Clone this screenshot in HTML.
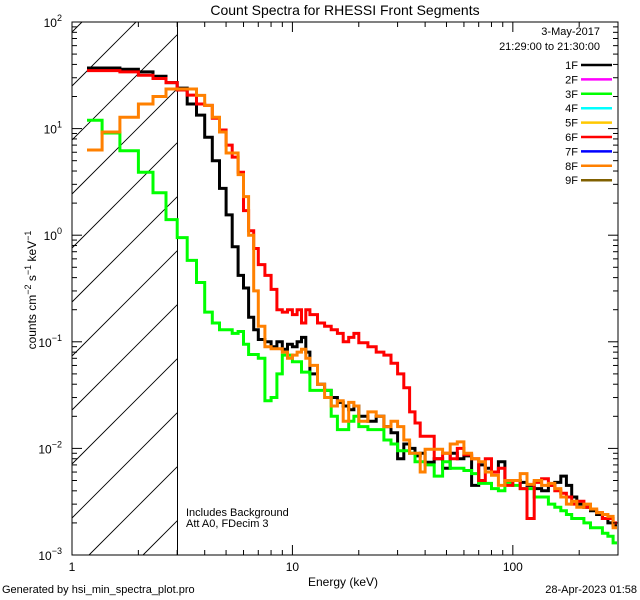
<!DOCTYPE html>
<html><head><meta charset="utf-8"><style>
html,body{margin:0;padding:0;background:#fff;width:640px;height:600px;overflow:hidden;}
svg{display:block;font-family:"Liberation Sans",sans-serif;}
</style></head><body>
<svg id="chart" width="640" height="600" viewBox="0 0 640 600" xmlns="http://www.w3.org/2000/svg">
<rect width="640" height="600" fill="#fff"/>
<text x="345" y="15" font-size="14" text-anchor="middle">Count Spectra for RHESSI Front Segments</text>
<text x="343" y="586" font-size="12" text-anchor="middle">Energy (keV)</text>
<text x="2" y="593" font-size="11">Generated by hsi_min_spectra_plot.pro</text>
<text x="637" y="593" font-size="11" text-anchor="end">28-Apr-2023 01:58</text>
<text transform="translate(36,290) rotate(-90)" font-size="12" text-anchor="middle">counts cm<tspan dy="-5" font-size="9">−2</tspan><tspan dy="5"> s</tspan><tspan dy="-5" font-size="9">−1</tspan><tspan dy="5"> keV</tspan><tspan dy="-5" font-size="9">−1</tspan></text>
<text x="186" y="516" font-size="11">Includes Background</text>
<text x="186" y="527" font-size="11">Att A0, FDecim 3</text>
<g id="hatch"></g>
<g id="series"></g>
<g id="axes"></g>
<g id="legend"></g>
</svg>
<script>
const edges = [1.17,1.37,1.65,2,2.33,2.67,3,3.33,3.67,4,4.33,4.67,5,5.33,5.67,6,6.33,6.67,7,7.5,8,8.5,9,9.5,10,10.5,11,11.5,12,13,14,15,16,17,18,19,20,22,24,26,28,30,32,34,36,38,40,44,48,52,56,60,65,70,75,80,86,92,100,108,116,125,135,145,155,165,175,185,195,210,225,240,255,270,285,300];
const seg1F = [37,37,36,34,31,27,24,17,13.4,8.3,5.0,2.75,1.55,0.78,0.42,0.32,0.17,0.13,0.105,0.1,0.09,0.1,0.085,0.095,0.09,0.1,0.11,0.08,0.05,0.04,0.035,0.03,0.027,0.025,0.023,0.025,0.02,0.018,0.02,0.016,0.014,0.008,0.011,0.01,0.0085,0.009,0.0074,0.008,0.0065,0.009,0.008,0.0085,0.0045,0.007,0.0065,0.006,0.0075,0.005,0.005,0.0048,0.0045,0.0042,0.004,0.0045,0.0048,0.0055,0.0045,0.0035,0.003,0.0028,0.0026,0.0024,0.0022,0.002,0.0019];
const seg3F = [12,9.1,6.2,3.9,2.5,1.4,0.95,0.58,0.36,0.19,0.15,0.13,0.13,0.12,0.125,0.095,0.076,0.076,0.07,0.028,0.03,0.05,0.075,0.075,0.065,0.065,0.052,0.052,0.035,0.035,0.035,0.02,0.015,0.015,0.018,0.02,0.016,0.015,0.015,0.012,0.011,0.0095,0.0095,0.009,0.0075,0.0075,0.007,0.0055,0.0075,0.0065,0.0065,0.0062,0.0058,0.0047,0.0047,0.0042,0.004,0.0048,0.0045,0.0042,0.0042,0.0035,0.0035,0.003,0.0028,0.0026,0.0024,0.0022,0.0022,0.002,0.0018,0.0018,0.0016,0.0015,0.0013];
const seg6F = [35,35,34,31.6,29.5,27,23,20.6,17,16.5,12.5,9.7,7,5.4,3.9,1.7,1.1,0.75,0.53,0.42,0.31,0.2,0.19,0.2,0.18,0.2,0.15,0.2,0.18,0.15,0.14,0.13,0.12,0.1,0.11,0.12,0.098,0.09,0.08,0.075,0.063,0.05,0.037,0.022,0.0173,0.013,0.013,0.008,0.009,0.008,0.01,0.0087,0.008,0.005,0.008,0.006,0.0065,0.0045,0.005,0.0042,0.0022,0.0048,0.0052,0.0045,0.004,0.0038,0.0035,0.003,0.0032,0.0028,0.0027,0.0025,0.0022,0.0022,0.002];
const seg8F = [6.3,9.3,12.8,17,20,23.5,23.5,23.5,20.5,16.5,12.8,9.3,5.9,5.9,3.7,2.3,1.0,0.3,0.14,0.09,0.086,0.086,0.08,0.07,0.075,0.08,0.085,0.07,0.06,0.04,0.03,0.025,0.028,0.018,0.027,0.025,0.018,0.022,0.02,0.016,0.018,0.016,0.012,0.009,0.009,0.006,0.0098,0.0098,0.009,0.011,0.0115,0.009,0.008,0.0075,0.006,0.0056,0.0045,0.005,0.005,0.0058,0.0046,0.005,0.0045,0.0047,0.0042,0.0035,0.003,0.0032,0.0028,0.003,0.0027,0.0025,0.0024,0.0023,0.0018];
const legendLabels = ["1F","2F","3F","4F","5F","6F","7F","8F","9F"];
const legendColors = ["#000000","#ff00ff","#00ff00","#00ffff","#ffc800","#ff0000","#0000ff","#ff8000","#806000"];
const yTickLabels = ["-3","-2","-1","0","1","2"];
const xTickLabels = ["1","10","100"];

const NS="http://www.w3.org/2000/svg";
const L=72,R=618,T=22,B=555;
const XMIN=0, XMAX=Math.log10(300);
const YMIN=-3, YMAX=2;
function xs(e){return L+(Math.log10(e)-XMIN)/(XMAX-XMIN)*(R-L);}
function ys(v){return B-(Math.log10(v)-YMIN)/(YMAX-YMIN)*(B-T);}
function mk(tag,attrs,parent){const el=document.createElementNS(NS,tag);for(const k in attrs)el.setAttribute(k,attrs[k]);parent.appendChild(el);return el;}

const hatch=document.getElementById('hatch');
const hx=xs(3);
for(let k=-3;k<12;k++){
  const y0=86+k*54; // y at x=L ; line y = y0 - (x-L)
  let xa=L, ya=y0;
  if(ya>B){xa=L+(ya-B); ya=B;}
  let xb=hx, yb=y0-(hx-L);
  if(yb<T){xb=L+(y0-T); yb=T;}
  if(xa>=xb) continue;
  const ln=mk('line',{x1:xa,y1:ya,x2:xb,y2:yb,stroke:'#000','stroke-width':0.9},hatch);
  
  
}
const vl=mk('line',{x1:Math.round(hx)+0.5,y1:T,x2:Math.round(hx)+0.5,y2:B,stroke:'#000','stroke-width':1},hatch);



const sg=document.getElementById('series');
const series=[[seg1F,'#000000','series-1f'],[seg3F,'#00ff00','series-3f'],[seg6F,'#ff0000','series-6f'],[seg8F,'#ff8000','series-8f']];
for(const [vals,col,name] of series){
  let d='';
  for(let i=0;i<vals.length;i++){
    const x0=xs(edges[i]).toFixed(1),x1=Math.min(xs(edges[i+1]),R-1).toFixed(1),y=ys(vals[i]).toFixed(1);
    d+=(i===0?'M':'L')+x0+','+y+'L'+x1+','+y;
  }
  const p=mk('path',{d:d,fill:'none',stroke:col,'stroke-width':3,'stroke-linejoin':'miter'},sg);
  
  
}

const ax=document.getElementById('axes');
const box=mk('rect',{x:L,y:T,width:R-L,height:B-T,fill:'none',stroke:'#000','stroke-width':1},ax);


for(let dec=0;dec<3;dec++){
  for(let m=1;m<10;m++){
    const e=m*Math.pow(10,dec); if(e>300)break;
    const x=xs(e), len=m===1?10:5;
    mk('line',{x1:x,y1:B,x2:x,y2:B-len,stroke:'#000'},ax);
    mk('line',{x1:x,y1:T,x2:x,y2:T+len,stroke:'#000'},ax);
  }
}
xTickLabels.forEach((t,i)=>{
  const tx=mk('text',{x:xs(Math.pow(10,i)),y:B+16,'font-size':12,'text-anchor':'middle'},ax);
  tx.textContent=t;
  
  
});
for(let dec=-3;dec<2;dec++){
  for(let m=1;m<10;m++){
    const y=ys(m*Math.pow(10,dec)), len=m===1?10:5;
    mk('line',{x1:L,y1:y,x2:L+len,y2:y,stroke:'#000'},ax);
    mk('line',{x1:R,y1:y,x2:R-len,y2:y,stroke:'#000'},ax);
  }
}
yTickLabels.forEach(t=>{
  const y=ys(Math.pow(10,+t));
  const tx=mk('text',{x:62,y:y+5,'font-size':12,'text-anchor':'end'},ax);
  tx.innerHTML='10<tspan dy="-6" font-size="9">'+t.replace('-','−')+'</tspan>';
  
  
});

const lg=document.getElementById('legend');
const d1=mk('text',{x:600,y:35,'font-size':11,'text-anchor':'end'},lg);
d1.textContent='3-May-2017';


const d2=mk('text',{x:600,y:50,'font-size':11,'text-anchor':'end'},lg);
d2.textContent='21:29:00 to 21:30:00';


legendLabels.forEach((lab,i)=>{
  const y=65+i*14.4;
  const t=mk('text',{x:578,y:y+4,'font-size':11,'text-anchor':'end'},lg);
  t.textContent=lab;
  
  
  const l=mk('line',{x1:581,y1:y,x2:612,y2:y,stroke:legendColors[i],'stroke-width':2.5},lg);
  
  
});
</script>
</body></html>
